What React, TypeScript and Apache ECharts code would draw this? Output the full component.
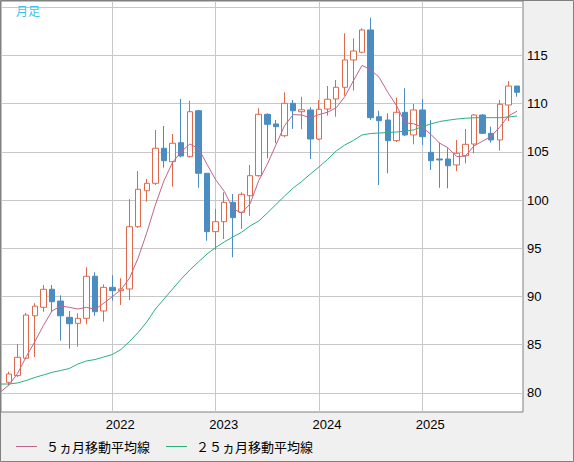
import React, { useEffect, useRef } from 'react';
import * as echarts from 'echarts';

// ---------- data ----------
const years = [2021, 2022, 2023, 2024, 2025];
const months: string[] = years.flatMap((y) =>
  ['01', '02', '03', '04', '05', '06', '07', '08', '09', '10', '11', '12'].map((m) => `${y}-${m}`)
);

const opens = [
  81.11, 81.8, 83.6, 88.0, 88.88, 90.75, 89.53, 87.84, 87.22, 87.74, 92.1, 88.5,
  90.95, 90.6, 90.78, 97.23, 100.96, 101.73, 105.36, 103.97, 105.94, 104.49, 109.25, 102.77,
  96.72, 97.75, 99.76, 98.73, 100.45, 102.52, 108.88, 107.88, 106.66, 110.02, 109.15, 109.33,
  106.32, 109.43, 110.47, 111.68, 114.51, 115.31, 117.62, 108.63, 108.29, 106.15, 109.09, 106.74,
  109.33, 104.94, 104.25, 104.25, 103.63, 104.59, 105.8, 108.81, 106.91, 106.22, 109.84, 111.81,
];
const closes = [
  81.97, 83.7, 88.08, 89.0, 90.75, 89.46, 88.0, 87.18, 87.74, 92.1, 88.42, 90.95,
  90.6, 90.78, 97.23, 101.11, 101.73, 105.36, 104.07, 105.88, 104.56, 109.15, 102.77, 96.72,
  97.75, 99.76, 98.17, 100.59, 102.52, 108.88, 107.84, 107.6, 110.02, 109.25, 109.35, 106.32,
  109.4, 110.44, 111.68, 114.51, 115.44, 117.62, 108.53, 108.22, 106.15, 109.09, 106.74, 109.33,
  106.56, 104.07, 104.15, 103.55, 104.84, 105.77, 108.81, 106.91, 106.22, 109.92, 111.81, 111.16,
];
const lows = [
  80.83, 81.66, 83.5, 83.73, 88.42, 88.39, 85.42, 84.59, 84.8, 87.12, 88.0, 87.39,
  89.57, 89.12, 89.64, 97.1, 99.82, 101.55, 103.35, 101.38, 104.42, 104.4, 101.27, 95.78,
  94.82, 95.96, 94.06, 97.0, 98.37, 102.4, 104.32, 105.88, 106.5, 107.36, 107.33, 104.25,
  106.2, 108.74, 108.63, 110.81, 111.33, 115.2, 108.29, 101.55, 102.77, 106.0, 106.63, 105.77,
  105.7, 103.11, 101.27, 101.21, 103.0, 103.8, 104.84, 106.85, 105.94, 105.11, 108.19, 110.7,
];
const highs = [
  82.2, 85.08, 88.3, 89.3, 91.19, 91.19, 90.12, 88.5, 88.26, 93.03, 92.51, 91.26,
  92.2, 91.89, 100.1, 103.0, 102.18, 107.25, 107.67, 106.84, 110.47, 110.29, 109.33, 102.8,
  99.07, 100.8, 100.62, 100.8, 103.63, 109.5, 108.98, 108.29, 111.16, 110.36, 110.7, 109.61,
  110.36, 111.81, 112.44, 117.27, 116.76, 117.79, 118.89, 109.25, 108.98, 110.6, 111.58, 109.95,
  110.47, 108.29, 105.94, 105.36, 106.22, 107.36, 108.91, 108.91, 107.6, 110.36, 112.33, 111.81,
];

// moving averages; the first value belongs to the month before the first candle (2020-12)
const ma5Values = [
  80.1,
  80.83, 82.04, 83.76, 85.32, 87.0, 88.5, 89.02, 88.88, 88.7, 88.88, 88.67, 89.3,
  89.98, 90.7, 91.9, 94.0, 96.6, 99.5, 102.0, 103.9, 105.0, 105.8, 105.35, 103.7,
  102.1, 100.9, 99.1, 98.65, 99.6, 102.0, 103.7, 105.7, 107.7, 108.85, 108.81, 108.52,
  108.85, 109.1, 109.55, 110.7, 112.35, 113.95, 113.5, 112.7, 111.15, 109.8, 108.0, 107.9,
  107.55, 106.8, 105.9, 105.4, 104.5, 104.55, 105.6, 106.1, 106.6, 107.55, 108.7, 109.2,
];
const ma25Values = [
  80.93,
  80.93, 81.04, 81.3, 81.61, 81.87, 82.14, 82.33, 82.54, 83.0, 83.32, 83.47, 83.73,
  83.99, 84.51, 85.34, 86.27, 87.36, 88.7, 89.74, 90.78, 91.81, 92.75, 93.58, 94.4,
  95.08, 95.65, 96.17, 96.65, 97.31, 97.82, 98.65, 99.53, 100.41, 101.24, 101.92, 102.69,
  103.42, 104.2, 105.08, 105.7, 106.17, 106.74, 106.89, 106.94, 107.0, 107.05, 107.12, 107.27,
  107.6, 107.88, 108.13, 108.27, 108.39, 108.47, 108.52, 108.53, 108.53, 108.53, 108.6, 108.7,
];

const yearTickIndex = [12, 24, 36, 48];
const yearTickLabels = ['2022', '2023', '2024', '2025'];
const priceGridValues = [80, 85, 90, 95, 100, 105, 110, 115, 120];
const priceLabelValues = [80, 85, 90, 95, 100, 105, 110, 115];

const ma5Name = '５ヵ月移動平均線';
const ma25Name = '２５ヵ月移動平均線';

// ---------- layout ----------
const W = 574;
const H = 462;
const PLOT_L = 1;
const PLOT_R = 523;
const PLOT_T = 1;
const PLOT_B = 412;
const STEP = 8.61;
const FIRST_X = 9;
const Y_MAX = 120.622;
const Y_MIN = 78.031;

const UP = '#dc6a4a';
const DOWN = '#4b8dc3';
const MA5_COLOR = '#c0648e';
const MA25_COLOR = '#2bb07a';
const GRID_COLOR = '#c8c8c8';

export default function App() {
  const ref = useRef<HTMLDivElement>(null);

  useEffect(() => {
    document.body.style.margin = '0';
    if (!ref.current) return;
    const chart = echarts.init(ref.current, undefined, { renderer: 'svg' });

    const xMin = (PLOT_L - FIRST_X) / STEP;
    const xMax = (PLOT_R - FIRST_X) / STEP;
    const bandLeft = FIRST_X - STEP / 2;
    const bandWidth = STEP * months.length;

    const candleData = months.map((_, i) => [opens[i], closes[i], lows[i], highs[i]]);
    const ma5Data = ma5Values.map((v, i) => [i - 1, v]);
    const ma25Data = ma25Values.map((v, i) => [i - 1, v]);

    const option: any = {
      animation: false,
      backgroundColor: '#f0f0f0',
      textStyle: { fontFamily: 'Liberation Sans' },
      grid: [
        {
          left: PLOT_L,
          top: PLOT_T,
          width: PLOT_R - PLOT_L,
          height: PLOT_B - PLOT_T,
          show: true,
          backgroundColor: '#ffffff',
          borderColor: '#808080',
          borderWidth: 1,
        },
        {
          left: bandLeft,
          top: PLOT_T,
          width: bandWidth,
          height: PLOT_B - PLOT_T,
        },
      ],
      xAxis: [
        {
          type: 'value',
          gridIndex: 0,
          min: xMin,
          max: xMax,
          axisLine: { show: false },
          axisTick: { show: false, customValues: yearTickIndex },
          splitLine: {
            show: true,
            customValues: yearTickIndex,
            lineStyle: { color: GRID_COLOR, width: 1 },
          },
          axisLabel: {
            customValues: yearTickIndex,
            formatter: (v: number) => {
              const k = yearTickIndex.indexOf(Math.round(v));
              return k >= 0 && Math.abs(v - Math.round(v)) < 1e-6 ? yearTickLabels[k] : '';
            },
            margin: 6,
            fontSize: 13,
            color: '#000',
            fontFamily: 'Liberation Sans',
            padding: [0, 0, 0, 16],
          },
        },
        {
          type: 'category',
          gridIndex: 1,
          data: months,
          boundaryGap: true,
          show: false,
        },
      ],
      yAxis: [
        {
          type: 'value',
          gridIndex: 0,
          position: 'right',
          min: Y_MIN,
          max: Y_MAX,
          splitNumber: 8,
          axisLine: { show: false },
          axisTick: { show: false, customValues: priceGridValues },
          splitLine: {
            show: true,
            customValues: priceGridValues,
            lineStyle: { color: GRID_COLOR, width: 1 },
          },
          axisLabel: {
            customValues: priceLabelValues,
            formatter: (v: number) =>
              priceLabelValues.indexOf(v) >= 0 ? String(v) : '',
            margin: 4,
            fontSize: 13,
            color: '#000',
            fontFamily: 'Liberation Sans',
          },
        },
        {
          type: 'value',
          gridIndex: 1,
          min: Y_MIN,
          max: Y_MAX,
          show: false,
          splitLine: { show: false },
        },
      ],
      legend: {
        left: 16,
        top: 440,
        padding: 0,
        icon: 'rect',
        itemWidth: 21,
        itemHeight: 1,
        itemGap: 16,
        textStyle: {
          fontFamily: 'Noto Sans CJK JP',
          fontSize: 13,
          color: '#000',
          padding: [0, 0, 0, 4],
        },
        data: [ma5Name, ma25Name],
      },
      graphic: [
        {
          type: 'rect',
          silent: true,
          z: 100,
          shape: { x: 0.5, y: 0.5, width: W - 1, height: H - 1 },
          style: { fill: 'none', stroke: '#808080', lineWidth: 1 },
        },
        {
          type: 'text',
          left: 16,
          top: 4,
          z: 100,
          style: {
            text: '月足',
            fill: '#3cc4ef',
            fontSize: 12,
            fontFamily: 'Noto Sans CJK JP',
          },
        },
      ],
      series: [
        {
          type: 'candlestick',
          xAxisIndex: 1,
          yAxisIndex: 1,
          data: candleData,
          barWidth: 6,
          z: 2,
          itemStyle: {
            color: '#ffffff',
            color0: DOWN,
            borderColor: UP,
            borderColor0: DOWN,
            borderWidth: 1,
          },
        },
        {
          name: ma5Name,
          type: 'line',
          xAxisIndex: 0,
          yAxisIndex: 0,
          data: ma5Data,
          symbol: 'none',
          showSymbol: false,
          z: 3,
          lineStyle: { color: MA5_COLOR, width: 1 },
          itemStyle: { color: MA5_COLOR },
        },
        {
          name: ma25Name,
          type: 'line',
          xAxisIndex: 0,
          yAxisIndex: 0,
          data: ma25Data,
          symbol: 'none',
          showSymbol: false,
          z: 3,
          lineStyle: { color: MA25_COLOR, width: 1 },
          itemStyle: { color: MA25_COLOR },
        },
      ],
    };

    chart.setOption(option);
    return () => {
      chart.dispose();
    };
  }, []);

  return <div ref={ref} style={{ width: W, height: H }} />;
}
